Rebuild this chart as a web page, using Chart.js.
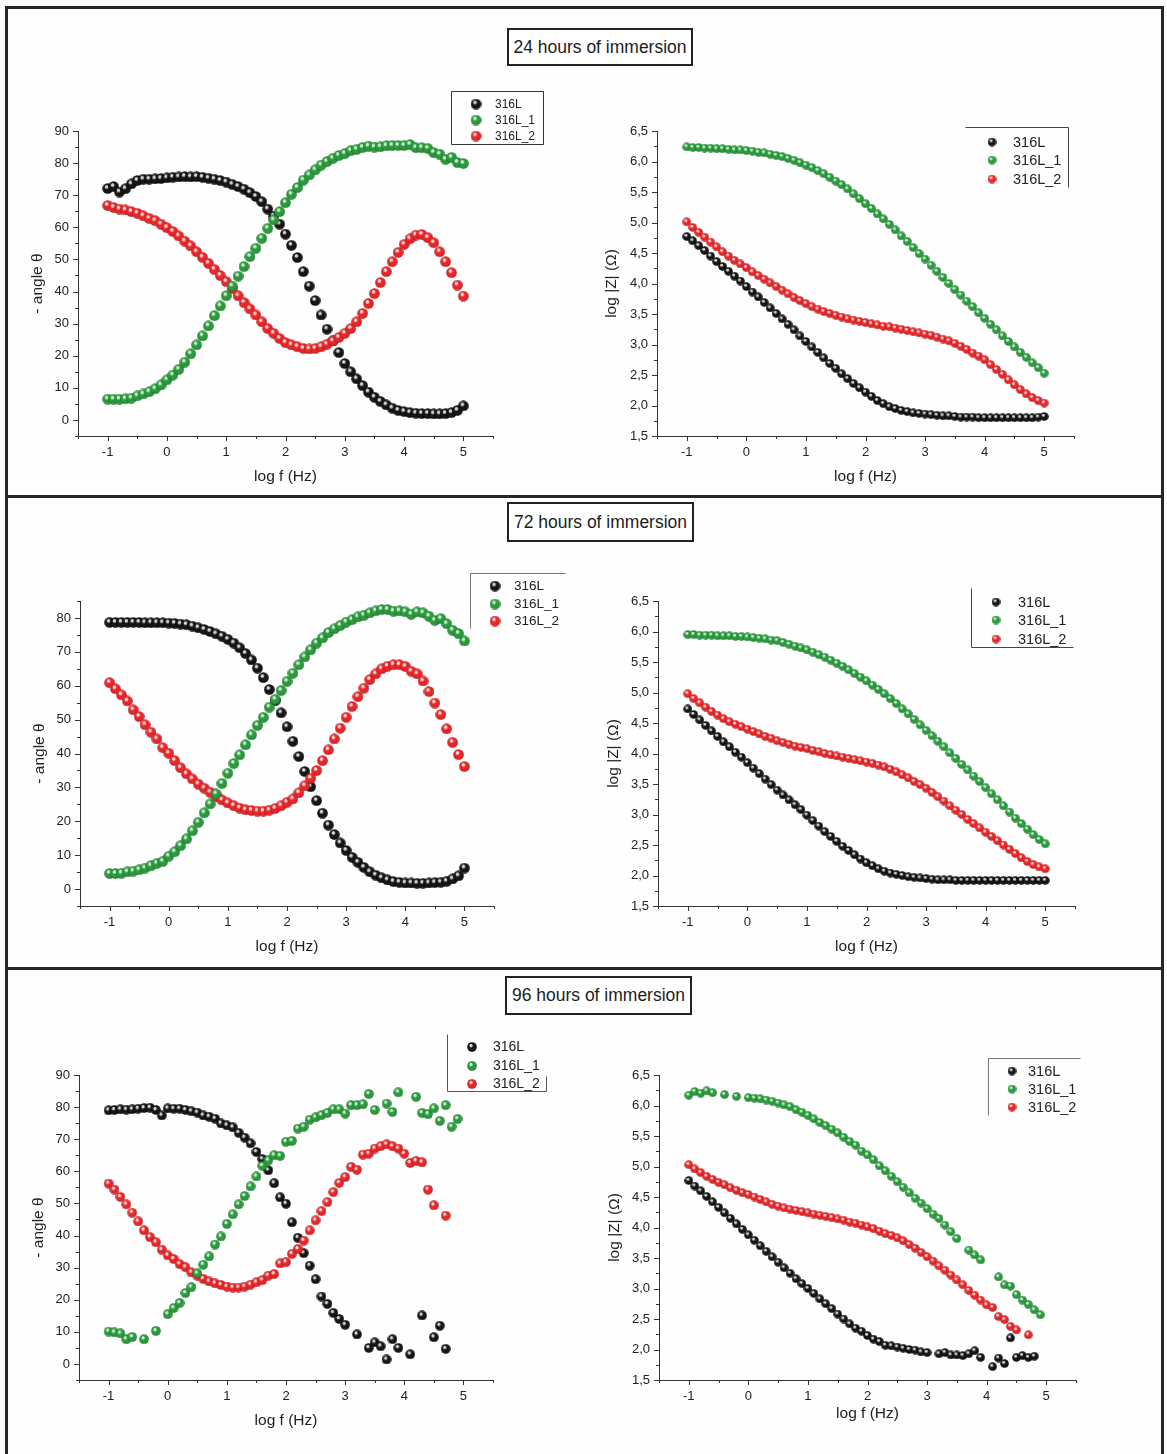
<!DOCTYPE html>
<html>
<head>
<meta charset="utf-8">
<title>Bode plots - 316L immersion</title>
<script src="https://cdn.jsdelivr.net/npm/chart.js@4.4.0/dist/chart.umd.min.js"></script>
<style>
  html, body { margin: 0; padding: 0; background: #fff; }
  #page {
    position: relative; width: 1167px; height: 1454px; overflow: hidden;
    background: #fefefe; font-family: "Liberation Sans", Arial, sans-serif;
  }
  .frame { position: absolute; background: #262626; }
  .panel-title {
    position: absolute; box-sizing: border-box; border: 2px solid #222;
    display: flex; align-items: center; justify-content: center;
    font-size: 17.5px; color: #1c1c1c; background: #fff;
  }
  canvas { position: absolute; }
</style>
</head>
<body>
<div id="page">
  <div class="frame" style="left:5px;top:6px;width:3px;height:1448px"></div>
  <div class="frame" style="left:5px;top:6px;width:1159px;height:3px"></div>
  <div class="frame" style="left:1161px;top:6px;width:3px;height:1448px"></div>
  <div class="frame" style="left:5px;top:495px;width:1159px;height:3px"></div>
  <div class="frame" style="left:5px;top:967px;width:1159px;height:3px"></div>

  <div class="panel-title" style="left:507px;top:28px;width:186px;height:38px">24 hours of immersion</div>
  <div class="panel-title" style="left:507px;top:502px;width:187px;height:40px">72 hours of immersion</div>
  <div class="panel-title" style="left:505px;top:976px;width:187px;height:39px">96 hours of immersion</div>

  <canvas id="phase24"></canvas>
  <canvas id="mod24"></canvas>
  <canvas id="phase72"></canvas>
  <canvas id="mod72"></canvas>
  <canvas id="phase96"></canvas>
  <canvas id="mod96"></canvas>
</div>

<script>
// Frequency sweep shared by every panel (log f, Hz)
const logF = [
  -1.0, -0.9, -0.8, -0.7, -0.6, -0.5, -0.4, -0.3, -0.2, -0.1,
  0.0, 0.1, 0.2, 0.3, 0.4, 0.5, 0.6, 0.7, 0.8, 0.9,
  1.0, 1.1, 1.2, 1.3, 1.4, 1.5, 1.6, 1.7, 1.8, 1.9,
  2.0, 2.1, 2.2, 2.3, 2.4, 2.5, 2.6, 2.7, 2.8, 2.9,
  3.0, 3.1, 3.2, 3.3, 3.4, 3.5, 3.6, 3.7, 3.8, 3.9,
  4.0, 4.1, 4.2, 4.3, 4.4, 4.5, 4.6, 4.7, 4.8, 4.9,
  5.0
];

const seriesNames = ['316L', '316L_1', '316L_2'];

// ---- 24 hours: phase angle (-theta, deg) ----
const phase24_316L = [
  72.1, 72.7, 71.0, 72.0, 73.5, 74.6, 75.0, 75.0, 75.1, 75.2,
  75.4, 75.6, 75.7, 75.8, 75.7, 75.8, 75.6, 75.3, 75.0, 74.6,
  74.1, 73.4, 72.7, 71.9, 70.8, 69.6, 68.0, 65.7, 63.5, 61.0,
  57.9, 54.4, 50.6, 46.2, 41.7, 37.2, 32.7, 28.3, 24.6, 21.0,
  17.6, 15.0, 12.8, 10.7, 8.7, 7.1, 5.8, 4.7, 3.7, 3.0,
  2.6, 2.3, 2.1, 2.0, 2.0, 1.9, 1.9, 2.0, 2.3, 3.0,
  4.4
];
const phase24_316L_1 = [
  6.5, 6.5, 6.5, 6.6, 6.8, 7.5, 8.1, 8.8, 9.7, 10.9,
  12.5, 14.0, 15.8, 18.0, 20.6, 23.4, 26.2, 29.3, 32.5, 35.5,
  38.7, 41.7, 44.8, 47.8, 50.9, 53.5, 56.6, 59.7, 62.3, 64.9,
  67.7, 70.3, 72.4, 74.7, 76.3, 77.9, 79.4, 80.5, 81.5, 82.4,
  83.0, 83.9, 84.3, 84.9, 85.3, 85.0, 85.1, 85.4, 85.5, 85.5,
  85.5, 85.8, 84.8, 84.8, 84.6, 83.3, 82.8, 81.2, 81.8, 80.2,
  79.9
];
const phase24_316L_2 = [
  66.8, 66.2, 65.7, 65.4, 64.9, 64.4, 63.6, 62.8, 62.1, 61.0,
  59.9, 58.7, 57.3, 55.7, 54.2, 52.4, 50.7, 48.8, 46.9, 45.0,
  43.1, 40.9, 38.7, 36.6, 34.6, 32.7, 30.6, 28.5, 27.0, 25.4,
  24.1, 23.4, 22.8, 22.3, 22.1, 22.3, 22.8, 23.6, 24.6, 25.7,
  27.0, 28.5, 30.6, 33.2, 36.3, 39.4, 42.8, 46.2, 49.3, 52.2,
  54.7, 56.4, 57.6, 57.8, 56.8, 55.2, 52.4, 49.3, 45.9, 42.0,
  38.6
];

// ---- 24 hours: log |Z| (ohm) ----
const mod24_316L = [
  4.77, 4.70, 4.62, 4.54, 4.45, 4.36, 4.28, 4.20, 4.12, 4.04,
  3.95, 3.86, 3.78, 3.69, 3.60, 3.51, 3.42, 3.33, 3.24, 3.14,
  3.05, 2.96, 2.87, 2.78, 2.69, 2.61, 2.52, 2.44, 2.36, 2.29,
  2.22, 2.15, 2.08, 2.03, 1.98, 1.95, 1.92, 1.90, 1.88, 1.87,
  1.86, 1.85, 1.84, 1.83, 1.83, 1.82, 1.81, 1.81, 1.81, 1.80,
  1.80, 1.80, 1.80, 1.80, 1.80, 1.80, 1.80, 1.80, 1.80, 1.81,
  1.82
];
const mod24_316L_1 = [
  6.24, 6.23, 6.23, 6.22, 6.22, 6.21, 6.21, 6.20, 6.19, 6.19,
  6.18, 6.17, 6.15, 6.14, 6.12, 6.10, 6.08, 6.05, 6.02, 5.98,
  5.94, 5.90, 5.85, 5.80, 5.74, 5.68, 5.62, 5.55, 5.47, 5.39,
  5.31, 5.23, 5.14, 5.06, 4.97, 4.88, 4.78, 4.69, 4.59, 4.49,
  4.40, 4.30, 4.20, 4.10, 4.00, 3.90, 3.81, 3.71, 3.62, 3.52,
  3.43, 3.33, 3.24, 3.14, 3.05, 2.96, 2.87, 2.79, 2.70, 2.62,
  2.53
];
const mod24_316L_2 = [
  5.01, 4.92, 4.84, 4.76, 4.68, 4.60, 4.52, 4.45, 4.38, 4.32,
  4.26, 4.19, 4.13, 4.07, 4.01, 3.95, 3.89, 3.83, 3.77, 3.72,
  3.67, 3.62, 3.58, 3.54, 3.51, 3.48, 3.45, 3.42, 3.40, 3.38,
  3.36, 3.34, 3.32, 3.30, 3.29, 3.27, 3.25, 3.23, 3.21, 3.19,
  3.17, 3.15, 3.12, 3.09, 3.06, 3.02, 2.97, 2.92, 2.86, 2.81,
  2.75, 2.67, 2.59, 2.51, 2.42, 2.34, 2.26, 2.19, 2.13, 2.08,
  2.04
];

// ---- 72 hours: phase angle ----
const phase72_316L = [
  78.7, 78.7, 78.7, 78.7, 78.7, 78.7, 78.6, 78.6, 78.6, 78.6,
  78.5, 78.4, 78.2, 78.0, 77.6, 77.1, 76.6, 76.0, 75.3, 74.6,
  73.7, 72.6, 71.2, 69.5, 67.6, 65.2, 62.4, 58.9, 55.6, 52.0,
  47.9, 43.6, 39.1, 34.7, 30.2, 26.1, 22.4, 18.9, 16.1, 13.6,
  11.4, 9.4, 7.9, 6.4, 5.1, 4.1, 3.3, 2.7, 2.2, 2.0,
  1.8, 1.8, 1.7, 1.7, 1.8, 1.9, 2.0, 2.3, 3.0, 3.9,
  6.2
];
const phase72_316L_1 = [
  4.6, 4.6, 4.7, 5.1, 5.3, 5.7, 6.2, 6.9, 7.6, 8.2,
  9.7, 11.0, 12.8, 14.8, 17.2, 19.7, 22.5, 25.1, 28.1, 31.2,
  34.2, 37.1, 39.6, 42.6, 45.5, 48.3, 50.7, 53.7, 56.0, 58.6,
  61.3, 63.7, 66.2, 68.5, 70.6, 72.6, 74.1, 75.7, 76.8, 77.8,
  78.8, 79.5, 80.3, 80.8, 81.5, 82.1, 82.5, 82.5, 82.0, 82.1,
  81.8, 81.1, 81.8, 81.5, 80.5, 79.3, 79.8, 78.3, 76.4, 75.4,
  73.2
];
const phase72_316L_2 = [
  60.9, 59.1, 57.3, 55.5, 52.9, 50.9, 48.5, 46.3, 44.3, 41.7,
  40.1, 37.9, 35.8, 34.0, 32.5, 31.0, 29.8, 28.6, 27.3, 26.3,
  25.4, 24.6, 23.9, 23.4, 23.2, 23.0, 23.0, 23.3, 23.8, 24.6,
  25.6, 26.6, 28.4, 30.5, 32.7, 35.0, 37.9, 41.1, 44.3, 47.5,
  50.7, 53.9, 56.8, 59.3, 61.8, 63.5, 65.0, 65.8, 66.2, 66.2,
  65.7, 64.3, 63.5, 61.4, 58.3, 54.9, 51.5, 47.3, 43.3, 39.7,
  36.2
];

// ---- 72 hours: log |Z| ----
const mod72_316L = [
  4.73, 4.64, 4.55, 4.46, 4.37, 4.28, 4.19, 4.11, 4.02, 3.94,
  3.85, 3.76, 3.67, 3.58, 3.49, 3.40, 3.32, 3.24, 3.16, 3.08,
  2.99, 2.90, 2.81, 2.72, 2.64, 2.56, 2.48, 2.41, 2.34, 2.27,
  2.21, 2.16, 2.11, 2.07, 2.04, 2.02, 2.00, 1.98, 1.97, 1.96,
  1.95, 1.94, 1.93, 1.93, 1.93, 1.92, 1.92, 1.92, 1.92, 1.92,
  1.92, 1.92, 1.92, 1.92, 1.92, 1.92, 1.92, 1.92, 1.92, 1.92,
  1.92
];
const mod72_316L_1 = [
  5.95, 5.95, 5.94, 5.94, 5.94, 5.93, 5.93, 5.93, 5.92, 5.92,
  5.91, 5.90, 5.89, 5.88, 5.86, 5.85, 5.82, 5.79, 5.76, 5.73,
  5.70, 5.66, 5.62, 5.58, 5.53, 5.48, 5.43, 5.37, 5.31, 5.25,
  5.19, 5.12, 5.05, 4.98, 4.90, 4.82, 4.73, 4.65, 4.56, 4.47,
  4.38, 4.29, 4.20, 4.11, 4.01, 3.92, 3.82, 3.73, 3.63, 3.54,
  3.44, 3.34, 3.24, 3.14, 3.04, 2.94, 2.85, 2.76, 2.67, 2.59,
  2.52
];
const mod72_316L_2 = [
  4.98, 4.90, 4.83, 4.76, 4.69, 4.63, 4.57, 4.52, 4.48, 4.44,
  4.40, 4.36, 4.32, 4.28, 4.25, 4.21, 4.18, 4.15, 4.12, 4.10,
  4.08, 4.05, 4.03, 4.00, 3.98, 3.96, 3.94, 3.92, 3.90, 3.88,
  3.86, 3.84, 3.81, 3.78, 3.74, 3.70, 3.65, 3.60, 3.54, 3.49,
  3.43, 3.36, 3.29, 3.22, 3.14, 3.07, 3.00, 2.92, 2.85, 2.78,
  2.71, 2.64, 2.57, 2.50, 2.43, 2.36, 2.29, 2.23, 2.18, 2.14,
  2.11
];

// ---- 96 hours: phase angle (null = point not recorded) ----
const phase96_316L = [
  79.0, 79.1, 79.3, 79.2, 79.3, 79.5, 79.7, 79.8, 79.1, 77.4,
  79.6, 79.5, 79.5, 79.1, 78.7, 78.3, 77.4, 77.0, 76.4, 74.9,
  74.3, 73.7, 72.0, 70.5, 68.7, 66.0, 63.8, 60.3, 56.3, 51.9,
  49.9, 44.1, 39.3, 34.5, 30.6, 26.4, 21.0, 18.7, 15.9, 14.0,
  12.2, null, 9.2, null, 5.0, 6.7, 5.5, 1.4, 7.7, 5.0,
  null, 3.0, null, 15.1, null, 8.3, 11.9, 4.7, null, null,
  null
];
const phase96_316L_1 = [
  10.1, 9.8, 9.5, 7.7, 8.4, null, 7.7, null, 10.3, null,
  15.5, 17.4, 19.0, 22.1, 23.9, 28.2, 30.9, 33.5, 37.2, 39.7,
  43.6, 46.6, 49.7, 52.3, 55.3, 58.4, 61.7, 63.4, 65.0, 64.8,
  69.2, 69.5, 73.3, 73.9, 76.1, 76.8, 77.5, 78.2, 79.3, 79.3,
  78.0, 80.6, 80.6, 80.9, 84.1, 79.1, null, 81.1, 78.5, 84.6,
  null, null, 83.2, 78.2, 77.8, 79.6, 75.7, 80.6, 73.9, 76.3,
  null
];
const phase96_316L_2 = [
  56.2, 54.3, 52.0, 49.7, 47.1, 44.4, 41.6, 39.5, 37.9, 35.6,
  33.8, 32.7, 31.1, 30.1, 28.5, 27.5, 26.5, 25.7, 25.1, 24.6,
  24.1, 23.8, 23.8, 24.1, 24.7, 25.4, 26.1, 27.5, 28.0, 31.3,
  31.7, 34.3, 35.8, 38.4, 41.6, 44.7, 47.6, 50.4, 53.5, 56.4,
  58.2, 61.4, 60.5, 65.2, 65.5, 67.1, 67.8, 68.4, 67.8, 67.1,
  65.5, 62.6, 63.2, 62.8, 54.3, 49.4, null, 46.2, null, null,
  null
];

// ---- 96 hours: log |Z| ----
const mod96_316L = [
  4.77, 4.68, 4.60, 4.51, 4.42, 4.33, 4.24, 4.15, 4.06, 3.97,
  3.88, 3.79, 3.70, 3.61, 3.52, 3.43, 3.34, 3.25, 3.16, 3.08,
  3.00, 2.92, 2.83, 2.75, 2.67, 2.58, 2.50, 2.42, 2.35, 2.30,
  2.23, 2.17, 2.13, 2.07, 2.06, 2.04, 2.02, 2.00, 1.99, 1.96,
  1.95, null, 1.93, 1.95, 1.91, 1.91, 1.90, 1.93, 1.98, 1.87,
  null, 1.72, 1.86, 1.77, 2.19, 1.87, 1.90, 1.87, 1.89, null,
  null
];
const mod96_316L_1 = [
  6.17, 6.23, 6.20, 6.24, 6.21, null, 6.18, null, 6.15, null,
  6.13, 6.12, 6.11, 6.09, 6.07, 6.04, 6.01, 5.98, 5.93, 5.89,
  5.84, 5.78, 5.72, 5.67, 5.61, 5.55, 5.48, 5.41, 5.35, 5.25,
  5.19, 5.11, 5.01, 4.93, 4.84, 4.75, 4.66, 4.57, 4.48, 4.40,
  4.31, 4.22, 4.15, 4.04, 3.93, 3.82, null, 3.63, 3.55, 3.47,
  null, null, 3.19, 3.06, 3.04, 2.90, 2.81, 2.74, 2.65, 2.57,
  null
];
const mod96_316L_2 = [
  5.03, 4.96, 4.90, 4.84, 4.79, 4.74, 4.70, 4.65, 4.61, 4.57,
  4.54, 4.50, 4.46, 4.42, 4.38, 4.35, 4.32, 4.30, 4.28, 4.26,
  4.24, 4.22, 4.20, 4.18, 4.16, 4.14, 4.12, 4.09, 4.07, 4.04,
  4.01, 3.98, 3.94, 3.90, 3.87, 3.83, 3.78, 3.72, 3.66, 3.59,
  3.52, 3.45, 3.37, 3.30, 3.22, 3.14, 3.06, 2.97, 2.89, 2.81,
  2.73, 2.69, 2.54, 2.49, 2.38, 2.32, null, 2.24, null, null,
  null
];

// ---------------------------------------------------------------
const FONT = '"Liberation Sans", Arial, sans-serif';
Chart.defaults.font.family = FONT;
Chart.defaults.color = '#222';

// shaded "3D ball" marker like the Origin sphere symbol
function makeBall(base, rim, glint, d) {
  const c = document.createElement('canvas');
  c.width = d; c.height = d;
  const g = c.getContext('2d');
  const r = d / 2;
  const grad = g.createRadialGradient(r * 0.72, r * 0.6, 0, r, r, r);
  grad.addColorStop(0, glint);
  grad.addColorStop(0.22, glint);
  grad.addColorStop(0.42, base);
  grad.addColorStop(0.8, base);
  grad.addColorStop(1, rim);
  g.fillStyle = grad;
  g.beginPath();
  g.arc(r, r, r - 0.2, 0, Math.PI * 2);
  g.fill();
  return c;
}

const ballColors = [
  ['#161616', '#000000', '#d6d6d6'],  // 316L
  ['#2b9a3d', '#146322', '#c9efcf'],  // 316L_1
  ['#e5272a', '#a50f12', '#ffd4d4']   // 316L_2
];
// green on top, then red, black at the bottom
const drawOrder = [2, 0, 1];

function isStep(v, step) {
  return Math.abs(v / step - Math.round(v / step)) < 1e-6;
}

function toPoints(values) {
  return logF.map((f, i) => ({ x: f, y: values[i] })).filter(p => p.y !== null);
}

// Origin-style outward tick marks (long on labelled ticks, short between)
const tickMarks = {
  id: 'tickMarks',
  afterDraw(chart) {
    const { ctx, chartArea: a, scales: { x, y } } = chart;
    ctx.save();
    ctx.strokeStyle = '#333';
    ctx.lineWidth = 1;
    ctx.beginPath();
    x.ticks.forEach(t => {
      const px = Math.round(x.getPixelForValue(t.value)) + 0.5;
      const len = t.label !== '' ? 5 : 3;
      ctx.moveTo(px, a.bottom);
      ctx.lineTo(px, a.bottom + len);
    });
    y.ticks.forEach(t => {
      const py = Math.round(y.getPixelForValue(t.value)) + 0.5;
      const len = t.label !== '' ? 5 : 3;
      ctx.moveTo(a.left, py);
      ctx.lineTo(a.left - len, py);
    });
    ctx.stroke();
    ctx.restore();
  }
};

// legend box drawn at fixed spots, with partial frames as in the figure
function legendPlugin(spec, ox, oy) {
  return {
    id: 'boxLegend',
    afterDraw(chart) {
      const ctx = chart.ctx;
      ctx.save();
      ctx.strokeStyle = spec.lineColor;
      ctx.lineWidth = 1;
      ctx.beginPath();
      spec.lines.forEach(([x1, y1, x2, y2]) => {
        ctx.moveTo(x1 - ox + 0.5, y1 - oy + 0.5);
        ctx.lineTo(x2 - ox + 0.5, y2 - oy + 0.5);
      });
      ctx.stroke();
      ctx.font = spec.fontSize + 'px ' + FONT;
      ctx.fillStyle = '#222';
      ctx.textAlign = 'left';
      ctx.textBaseline = 'middle';
      chart.data.datasets.forEach((ds, i) => {
        const img = ds.pointStyle;
        const cy = spec.rows[i] - oy;
        ctx.drawImage(img, spec.marker - ox - img.width / 2, cy - img.height / 2);
        ctx.fillText(ds.label, spec.text - ox, cy + 0.5);
      });
      ctx.restore();
    }
  };
}

// page layout: canvas box [left, top, width, height], plot area [left, top, right, bottom]
const panels = [
  {
    id: 'phase24', kind: 'phase', yMax: 90, ball: 11,
    series: [phase24_316L, phase24_316L_1, phase24_316L_2],
    canvas: [10, 10, 570, 483], area: [78, 131, 493, 436], yTitleX: 38, xTitleY: 477,
    legend: { rows: [104, 120, 136], marker: 476, text: 495, fontSize: 12, lineColor: '#333',
      lines: [[451, 91, 543, 91], [543, 91, 543, 144], [543, 144, 451, 144], [451, 144, 451, 91]] }
  },
  {
    id: 'mod24', kind: 'mod', ball: 9,
    series: [mod24_316L, mod24_316L_1, mod24_316L_2],
    canvas: [585, 10, 577, 483], area: [657, 131, 1074, 436], yTitleX: 612, xTitleY: 477,
    legend: { rows: [142, 160, 179], marker: 992, text: 1013, fontSize: 14.5, lineColor: '#444',
      lines: [[965, 127, 1068, 127], [1068, 127, 1068, 187]] }
  },
  {
    id: 'phase72', kind: 'phase', yMax: 85, ball: 11,
    series: [phase72_316L, phase72_316L_1, phase72_316L_2],
    canvas: [10, 500, 570, 466], area: [80, 601, 494, 906], yTitleX: 40, xTitleY: 947,
    legend: { rows: [586, 604, 621], marker: 495, text: 514, fontSize: 13.5, lineColor: '#777',
      lines: [[470, 573, 565, 573], [470, 573, 470, 628]] }
  },
  {
    id: 'mod72', kind: 'mod', ball: 9,
    series: [mod72_316L, mod72_316L_1, mod72_316L_2],
    canvas: [585, 500, 577, 466], area: [658, 601, 1075, 906], yTitleX: 614, xTitleY: 947,
    legend: { rows: [602, 620, 639], marker: 996, text: 1018, fontSize: 14.5, lineColor: '#444',
      lines: [[971, 588, 971, 647], [971, 647, 1073, 647]] }
  },
  {
    id: 'phase96', kind: 'phase', yMax: 90, ball: 10,
    series: [phase96_316L, phase96_316L_1, phase96_316L_2],
    canvas: [10, 972, 570, 482], area: [79, 1075, 493, 1380], yTitleX: 39, xTitleY: 1421,
    legend: { rows: [1047, 1066, 1084], marker: 472, text: 493, fontSize: 14, lineColor: '#555',
      lines: [[447, 1034, 447, 1091], [447, 1091, 546, 1091], [546, 1076, 546, 1091]] }
  },
  {
    id: 'mod96', kind: 'mod', ball: 9,
    series: [mod96_316L, mod96_316L_1, mod96_316L_2],
    canvas: [585, 972, 577, 482], area: [659, 1075, 1076, 1380], yTitleX: 615, xTitleY: 1414,
    legend: { rows: [1071, 1089, 1107], marker: 1012, text: 1028, fontSize: 14.5, lineColor: '#777',
      lines: [[988, 1058, 1080, 1058], [988, 1058, 988, 1115]] }
  }
];

const TITLE_SIZE = 15.5;
const HALF_TITLE = TITLE_SIZE * 1.2 / 2;

function yAxisFor(p) {
  if (p.kind === 'phase') {
    return {
      min: -5, max: p.yMax, stepSize: 5, title: '- angle θ',
      label: v => (v >= 0 && isStep(v, 10)) ? String(v) : ''
    };
  }
  return {
    min: 1.5, max: 6.5, stepSize: 0.25, title: 'log |Z| (Ω)',
    label: v => isStep(v, 0.5) ? v.toFixed(1).replace('.', ',') : ''
  };
}

panels.forEach(p => {
  const [cl, ct, cw, ch] = p.canvas;
  const [al, at, ar, ab] = p.area;
  const el = document.getElementById(p.id);
  el.width = cw; el.height = ch;
  el.style.left = cl + 'px'; el.style.top = ct + 'px';
  el.style.width = cw + 'px'; el.style.height = ch + 'px';

  const yWidth = al - (p.yTitleX - HALF_TITLE);
  const xHeight = p.xTitleY + HALF_TITLE - ab;
  const yAx = yAxisFor(p);

  const datasets = p.series.map((values, i) => {
    const [base, rim, glint] = ballColors[i];
    return {
      label: seriesNames[i],
      data: toPoints(values),
      pointStyle: makeBall(base, rim, glint, p.ball),
      pointRadius: p.ball / 2,
      pointHoverRadius: p.ball / 2,
      showLine: false,
      order: drawOrder[i]
    };
  });

  new Chart(el, {
    type: 'scatter',
    data: { datasets },
    options: {
      responsive: false,
      animation: false,
      devicePixelRatio: 1,
      layout: {
        padding: {
          left: p.yTitleX - HALF_TITLE - cl,
          top: at - ct,
          right: cl + cw - ar,
          bottom: ct + ch - (p.xTitleY + HALF_TITLE)
        }
      },
      plugins: { legend: { display: false }, tooltip: { enabled: false } },
      scales: {
        x: {
          type: 'linear', min: -1.5, max: 5.5,
          afterFit: s => { s.height = xHeight; },
          grid: { display: false, drawTicks: false },
          border: { display: true, color: '#333', width: 1 },
          ticks: {
            stepSize: 0.5, autoSkip: false, maxRotation: 0, maxTicksLimit: 100,
            padding: 9, color: '#222', font: { size: 13 },
            callback: v => isStep(v, 1) ? String(Math.round(v)) : ''
          },
          title: { display: true, text: 'log f (Hz)', padding: 0, color: '#222', font: { size: TITLE_SIZE } }
        },
        y: {
          type: 'linear', min: yAx.min, max: yAx.max,
          afterFit: s => { s.width = yWidth; },
          grid: { display: false, drawTicks: false },
          border: { display: true, color: '#333', width: 1 },
          ticks: {
            stepSize: yAx.stepSize, autoSkip: false, maxTicksLimit: 100,
            padding: 9, color: '#222', font: { size: 13 },
            callback: yAx.label
          },
          title: { display: true, text: yAx.title, padding: 0, color: '#222', font: { size: TITLE_SIZE } }
        }
      }
    },
    plugins: [tickMarks, legendPlugin(p.legend, cl, ct)]
  });
});
</script>
</body>
</html>
